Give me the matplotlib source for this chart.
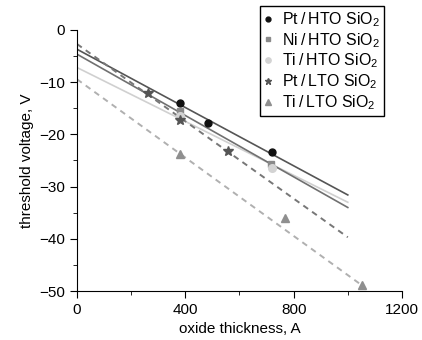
import numpy as np
import matplotlib
matplotlib.use("Agg")
import matplotlib.pyplot as plt
from matplotlib.ticker import MultipleLocator

plt.rcParams['font.family'] = ['Liberation Sans', 'DejaVu Sans']
plt.rcParams['mathtext.fontset'] = 'custom'
plt.rcParams['mathtext.rm'] = 'Liberation Sans'
plt.rcParams['mathtext.it'] = 'Liberation Sans'

# measured points
pt_hto_x = [380, 484, 720]
pt_hto_y = [-13.9, -17.9, -23.4]
ni_hto_x = [380, 718]
ni_hto_y = [-15.6, -25.7]
ti_hto_x = [380, 720]
ti_hto_y = [-16.5, -26.4]
pt_lto_x = [263, 380, 558]
pt_lto_y = [-12.0, -17.2, -23.2]
ti_lto_x = [380, 769, 1053]
ti_lto_y = [-23.8, -36.0, -48.9]

# fit lines: (x start, x end), (y start, y end)
pt_hto_fit = ([0, 1000], [-3.7, -31.6])
ni_hto_fit = ([0, 1000], [-4.65, -34.0])
ti_hto_fit = ([0, 1000], [-7.2, -33.0])
pt_lto_fit = ([0, 1000], [-2.7, -39.7])
ti_lto_fit = ([0, 1060], [-9.45, -49.2])

fig = plt.figure(figsize=(4.22, 3.4), dpi=100)
ax = fig.add_axes([0.1825, 0.144, 0.77, 0.768])

ax.plot(*ti_hto_fit, color='#d0d0d0', lw=1.2)
ax.plot(*ni_hto_fit, color='#707070', lw=1.2)
ax.plot(*pt_hto_fit, color='#555555', lw=1.2)
ax.plot(*pt_lto_fit, color='#777777', lw=1.4, ls=(0, (3, 2.5)))
ax.plot(*ti_lto_fit, color='#b0b0b0', lw=1.4, ls=(0, (3, 2.5)))

ax.plot(pt_hto_x, pt_hto_y, 'o', color='#111111', ms=5, label='Pt\u2009/\u2009HTO SiO$_2$')
ax.plot(ni_hto_x, ni_hto_y, 's', color='#8a8a8a', ms=4.5, label='Ni\u2009/\u2009HTO SiO$_2$')
ax.plot(ti_hto_x, ti_hto_y, 'o', color='#d3d3d3', ms=5.5, label='Ti\u2009/\u2009HTO SiO$_2$')
ax.plot(pt_lto_x, pt_lto_y, '*', color='#555555', ms=7, label='Pt\u2009/\u2009LTO SiO$_2$')
ax.plot(ti_lto_x, ti_lto_y, '^', color='#8f8f8f', ms=6, label='Ti\u2009/\u2009LTO SiO$_2$')

ax.set_xlim(0, 1200)
ax.set_ylim(-50, 0)
ax.xaxis.set_major_locator(MultipleLocator(400))
ax.xaxis.set_minor_locator(MultipleLocator(200))
ax.yaxis.set_major_locator(MultipleLocator(10))
ax.yaxis.set_minor_locator(MultipleLocator(5))
ax.spines['top'].set_visible(False)
ax.spines['right'].set_visible(False)
ax.tick_params(which='major', length=5, labelsize=11)
ax.tick_params(which='minor', length=3)

ax.set_xlabel('oxide thickness, A', fontsize=11)
ax.set_ylabel('threshold voltage, V', fontsize=11)

leg = ax.legend(loc='upper right', bbox_to_anchor=(0.945, 1.093), fontsize=11.4,
                fancybox=False, framealpha=1, edgecolor='black',
                handlelength=0.5, handletextpad=0.6, borderpad=0.28,
                labelspacing=0.13, markerscale=0.7, borderaxespad=0)
leg.get_frame().set_linewidth(1.0)

fig.savefig('out.png', dpi=100)
